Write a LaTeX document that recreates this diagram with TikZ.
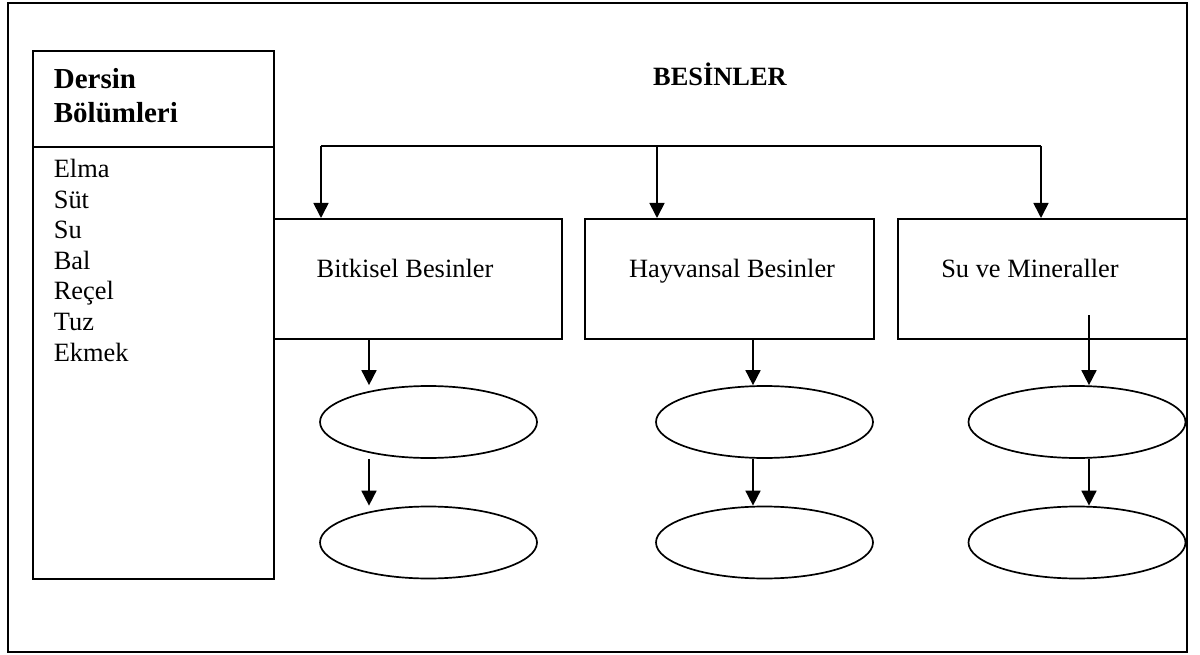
\documentclass[tikz,border=0pt]{standalone}
\usepackage{fontspec}
\setmainfont{Liberation Serif}
\usetikzlibrary{shapes.geometric,arrows.meta}
\begin{document}
\begin{tikzpicture}[x=1pt,y=-1pt,
  line width=1.7pt,
  box/.style={draw,rectangle,inner sep=0pt,anchor=north west},
  oval/.style={draw,ellipse,inner sep=0pt,minimum width=217pt,minimum height=72pt},
  txt/.style={inner sep=0pt,font=\fontsize{26.4}{30}\selectfont},
  btxt/.style={inner sep=0pt,font=\fontsize{26.4}{30}\selectfont\bfseries},
  htxt/.style={inner sep=0pt,font=\fontsize{29}{34}\selectfont\bfseries},
  arr/.style={-{Triangle[width=15pt,length=15pt]}}
]
\useasboundingbox (0,0) rectangle (1200,655);
\node[box,minimum width=1179pt,minimum height=649pt] (frame) at (7,2) {};
% left box
\node[box,minimum width=241pt,minimum height=96pt] (head) at (32,50) {};
\node[box,minimum width=241pt,minimum height=432pt] (list) at (32,146) {};
\node[htxt,anchor=base west] (h1) at (53,89) {Dersin};
\node[htxt,anchor=base west] (h2) at (53,123) {Bölümleri};
\foreach \t [count=\i] in {Elma,Süt,Su,Bal,Reçel,Tuz,Ekmek}
  \node[txt,anchor=base west] (l\i) at (53,{178+30.5*(\i-1)}) {\t};
% title
\node[btxt,anchor=base] (title) at (720,86) {BESİNLER};
% category boxes
\node[box,minimum width=288pt,minimum height=120pt] (b1) at (273,218) {};
\node[box,minimum width=289pt,minimum height=120pt] (b2) at (584,218) {};
\node[box,minimum width=289pt,minimum height=120pt] (b3) at (897,218) {};
\node[txt,anchor=base] (t1) at (405,277) {Bitkisel Besinler};
\node[txt,anchor=base] (t2) at (732,277) {Hayvansal Besinler};
\node[txt,anchor=base] (t3) at (1030,277) {Su ve Mineraller};
% ellipses
\node[oval] (e11) at (428.5,422) {};
\node[oval] (e12) at (428.5,542.5) {};
\node[oval] (e21) at (764.5,422) {};
\node[oval] (e22) at (764.5,542.5) {};
\node[oval] (e31) at (1077,422) {};
\node[oval] (e32) at (1077,542.5) {};
% bus
\coordinate (ka) at (321,146);
\coordinate (kb) at (657,146);
\coordinate (kc) at (1041,146);
\draw (ka) -- (kc);
\draw[arr] (ka) -- (b1.north -| ka);
\draw[arr] (kb) -- (b2.north -| kb);
\draw[arr] (kc) -- (b3.north -| kc);
% down arrows
\coordinate (x1) at (369,0);
\coordinate (x2) at (753,0);
\coordinate (x3) at (1089,0);
\coordinate (s3) at (1089,315);
\draw[arr] (b1.south -| x1) -- (e11.north -| x1);
\draw[arr] (e11.south -| x1) -- (e12.north -| x1);
\draw[arr] (b2.south -| x2) -- (e21.north -| x2);
\draw[arr] (e21.south -| x2) -- (e22.north -| x2);
\draw[arr] (s3) -- (e31.north -| x3);
\draw[arr] (e31.south -| x3) -- (e32.north -| x3);
\end{tikzpicture}
\end{document}
